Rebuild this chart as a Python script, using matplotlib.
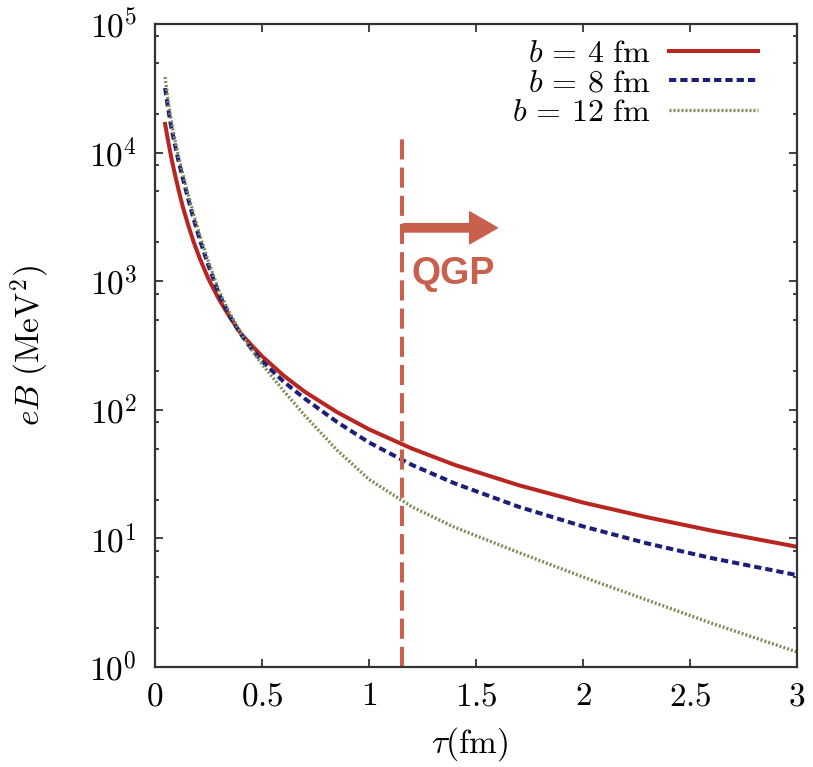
import numpy as np
import matplotlib
matplotlib.use("Agg")
from matplotlib import pyplot as plt
from matplotlib import ticker

# proper time tau (fm) and field strength eB (MeV^2) for the three impact parameters
tau = [0.047, 0.06, 0.075, 0.09, 0.11, 0.13, 0.155, 0.18, 0.21, 0.25,
       0.3, 0.35, 0.4, 0.45, 0.5, 0.6, 0.7, 0.85, 1.0, 1.2,
       1.4, 1.7, 2.0, 2.3, 2.6, 3.0]
eb_b4 = [16700, 12600, 9310, 7130, 5120, 3780, 2730, 2030, 1490, 1040,
         716, 524, 394, 319, 261, 185, 138, 96.0, 70.5, 50.0,
         37.3, 25.9, 19.0, 14.6, 11.5, 8.61]
eb_b8 = [31800, 22600, 16100, 12100, 8590, 6300, 4360, 3060, 2080, 1318,
         785, 533, 389, 299, 239, 166, 122, 80.5, 55.7, 37.3,
         26.8, 17.6, 12.4, 9.14, 7.03, 5.18]
eb_b12 = [38700, 25900, 17900, 13200, 9310, 6820, 4720, 3320, 2250, 1413,
          832, 562, 398, 295, 226, 141, 90.2, 48.6, 28.8, 17.6,
          12.2, 7.76, 5.01, 3.31, 2.19, 1.31]

labels = [r"$b\,=\,4\ \mathrm{fm}$", r"$b\,=\,8\ \mathrm{fm}$", r"$b\,=\,12\ \mathrm{fm}$"]

# onset of the QGP phase and the arrow pointing into it
qgp_tau = 1.155
qgp_line_top = 14200
arrow_end = 1.60
arrow_y = 2600
qgp_text_pos = (1.20, 950)

xticks = [0, 0.5, 1, 1.5, 2, 2.5, 3]
xticklabels = ["$0$", "$0.5$", "$1$", "$1.5$", "$2$", "$2.5$", "$3$"]

QGP_COLOR = "#c9604d"


def main():
    plt.rcParams["mathtext.fontset"] = "cm"
    fig = plt.figure(figsize=(8.13, 7.67), dpi=100)
    ax = fig.add_axes([0.1907, 0.1304, 0.7896, 0.8383])

    ax.plot(tau, eb_b4, color="#b8271f", lw=2.9, label=labels[0])
    ax.plot(tau, eb_b8, color="#1c1f7a", lw=2.9, dashes=(1.8, 1.0), label=labels[1])
    ax.plot(tau, eb_b12, color="#7d8c58", lw=2.4, dashes=(0.6, 0.6), label=labels[2])

    # QGP marker: dashed vertical line, arrow and label
    ax.vlines(qgp_tau, 1, qgp_line_top, colors=QGP_COLOR, lw=2.9,
              linestyles=(0, (5, 2)))
    ax.annotate("", xy=(arrow_end, arrow_y), xytext=(qgp_tau + 0.005, arrow_y),
                arrowprops=dict(facecolor=QGP_COLOR, edgecolor=QGP_COLOR,
                                width=6, headwidth=23, headlength=20, shrink=0))
    ax.text(qgp_text_pos[0], qgp_text_pos[1], "QGP", color=QGP_COLOR,
            fontsize=27, fontweight="bold", family="Liberation Sans",
            ha="left", va="baseline")

    ax.set_xlim(0, 3)
    ax.set_yscale("log")
    ax.set_ylim(1, 1e5)
    ax.set_xticks(xticks)
    ax.set_xticklabels(xticklabels)
    ax.yaxis.set_major_locator(ticker.LogLocator(base=10, numticks=10))
    ax.yaxis.set_minor_locator(ticker.LogLocator(base=10, subs=[2, 5, 8], numticks=10))
    ax.yaxis.set_minor_formatter(ticker.NullFormatter())
    ax.yaxis.set_major_formatter(ticker.FuncFormatter(lambda v, p: r"$10^{%d}$" % round(np.log10(v))))

    ax.tick_params(which="both", direction="in", top=True, right=True,
                   color="#333333", width=1.3)
    ax.tick_params(which="major", length=6)
    ax.tick_params(which="minor", length=3)
    ax.tick_params(axis="x", labelsize=24, pad=9)
    ax.tick_params(axis="y", labelsize=24, pad=13)
    for sp in ax.spines.values():
        sp.set_color("#333333")
        sp.set_linewidth(1.6)

    ax.set_xlabel(r"$\tau(\mathrm{fm})$", fontsize=24)
    ax.set_ylabel(r"$eB\ (\mathrm{MeV}^2)$", fontsize=24)
    ax.xaxis.set_label_coords(0.49, -0.09)
    ax.yaxis.set_label_coords(-0.16, 0.5)

    ax.legend(loc="upper right", bbox_to_anchor=(0.94, 0.978), frameon=False,
              markerfirst=False, fontsize=23, handlelength=2.8,
              handletextpad=0.6, labelspacing=-0.05, borderpad=0,
              borderaxespad=0)

    fig.savefig("out.png", dpi=100)
    plt.close(fig)


if __name__ == "__main__":
    main()
